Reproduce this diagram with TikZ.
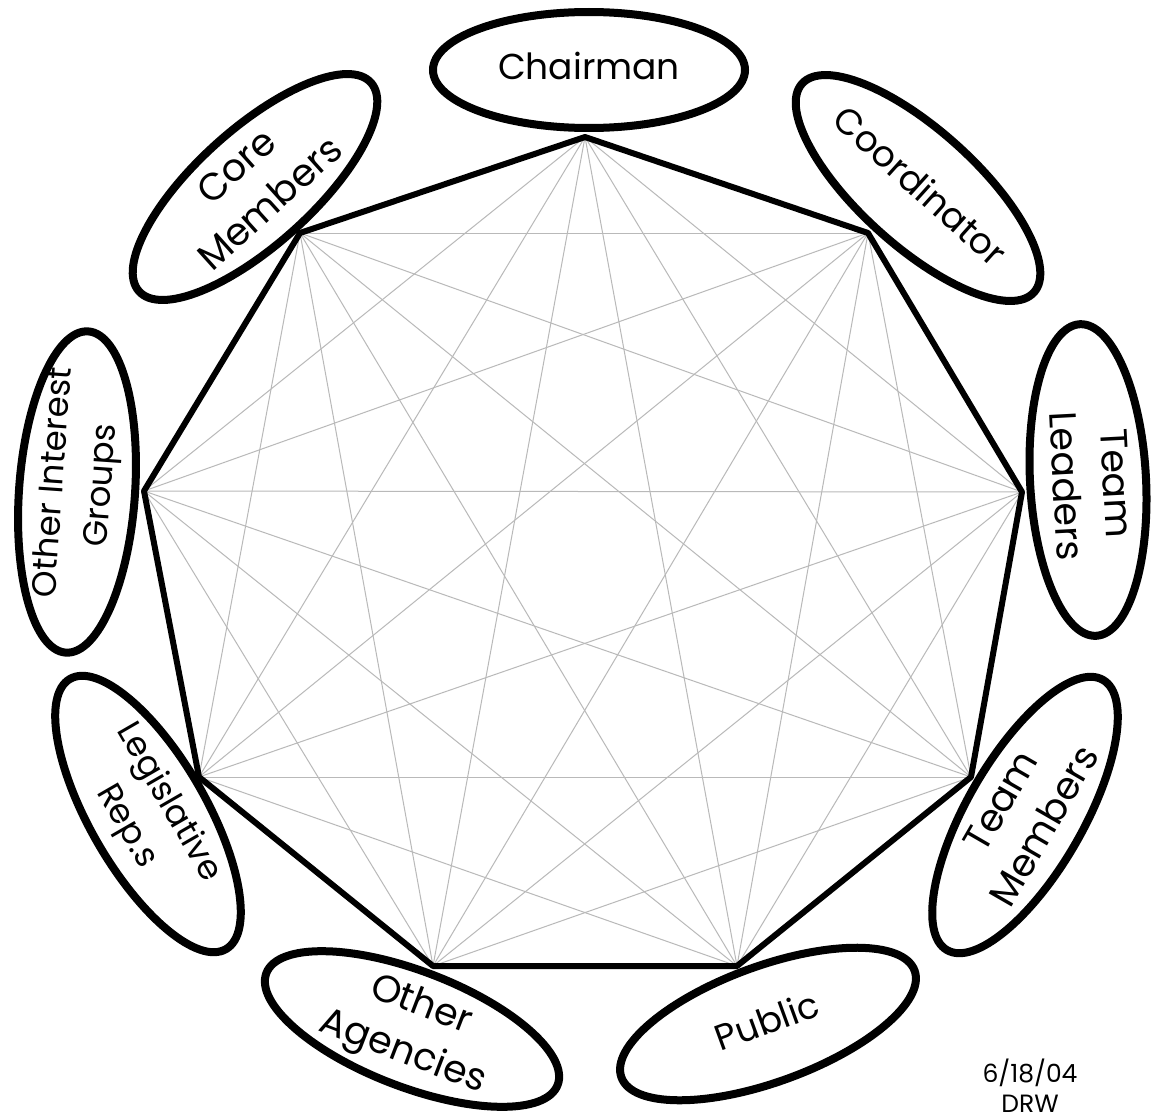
\documentclass[tikz,border=0pt]{standalone}
\usepackage{fontspec}
\setmainfont{Poppins}
\usetikzlibrary{shapes.geometric}
\definecolor{diaggray}{RGB}{185,185,185}
\newcommand\ctrtext[2][0pt]{\smash{\makebox[0pt]{\kern#1\kern#1\raisebox{\dimexpr(\depth-\height)/2\relax}{\begin{tabular}{@{}c@{}}#2\end{tabular}}}}}
\tikzset{
  role/.style={ellipse, draw=black, line width=8pt, minimum width=312pt, minimum height=116pt,
    inner sep=0pt, font=\fontsize{36}{50}\selectfont},
  bigrole/.style={role, font=\fontsize{38}{50}\selectfont},
  smallrole/.style={role, font=\fontsize{34}{48}\selectfont},
  diag/.style={draw=diaggray, line width=1pt},
  rim/.style={draw=black, line width=6pt, line cap=round, line join=round},
  stamp/.style={anchor=base, inner sep=0pt, font=\fontsize{25}{30}\selectfont}
}
\begin{document}
\begin{tikzpicture}[x=1pt,y=-1pt]
\useasboundingbox[fill=white] (0,0) rectangle (1156,1116);
% polygon vertices
\coordinate (v1) at (585,137);
\coordinate (v2) at (868,233);
\coordinate (v3) at (1022,492);
\coordinate (v4) at (971,777);
\coordinate (v5) at (737,966);
\coordinate (v6) at (433,966);
\coordinate (v7) at (199,777);
\coordinate (v8) at (144,491);
\coordinate (v9) at (300,233);
% all diagonals
\foreach \i in {1,...,7}{
  \pgfmathtruncatemacro\s{\i+2}
  \pgfmathtruncatemacro\e{ifthenelse(\i==1,8,9)}
  \foreach \j in {\s,...,\e}{\draw[diag] (v\i) -- (v\j);}
}
% outer ring
\draw[rim] (v1) -- (v2) -- (v3) -- (v4) -- (v5) -- (v6) -- (v7) -- (v8) -- (v9) -- cycle;
% role ellipses
\node[role] (chair) at (589,70) {\ctrtext{Chairman}};
\node[role, rotate=-42] (coord) at (918,188) {\ctrtext{Coordinator}};
\node[bigrole, rotate=-87] (tlead) at (1088,480) {\ctrtext[5pt]{Team\\Leaders}};
\node[bigrole, rotate=60] (tmem) at (1025,815) {\ctrtext{Team\\Members}};
\node[role, rotate=20] (public) at (768,1024) {\ctrtext{Public}};
\node[bigrole, rotate=-21] (agency) at (412,1029) {\ctrtext{Other\\Agencies}};
\node[smallrole, rotate=-60] (legis) at (148,814) {\ctrtext{Legislative\\Rep.s}};
\node[smallrole, rotate=86, minimum width=322pt] (interest) at (77,492) {\ctrtext[8pt]{Other Interest\\Groups}};
\node[bigrole, rotate=42] (core) at (255,187) {\ctrtext{Core\\Members}};
% stamp
\node[stamp] (date) at (1030,1082) {6/18/04};
\node[stamp] (drw) at (1030,1112) {DRW};
\end{tikzpicture}
\end{document}
